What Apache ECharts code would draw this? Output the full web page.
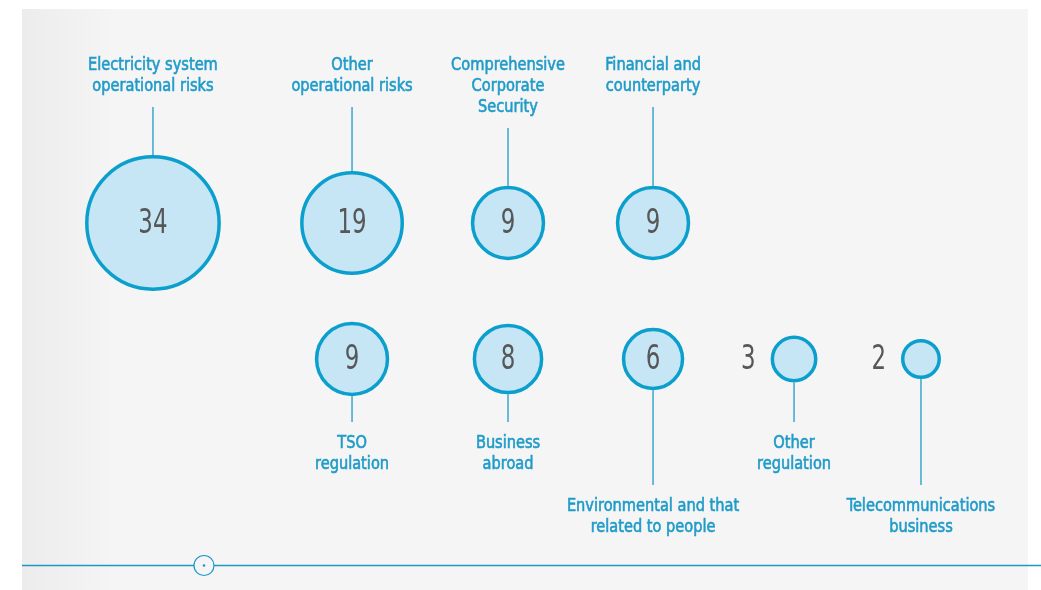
<!DOCTYPE html>
<html lang="en" style="height: 100%">
<head>
  <meta charset="utf-8">
</head>
<body style="height: 100%; margin: 0">
  <div id="container" style="height: 100%"></div>

  <script type="text/javascript" src="https://fastly.jsdelivr.net/npm/echarts@6/dist/echarts.min.js"></script>
  <script type="text/javascript">
    // risk categories and how many risks fall in each
    var riskNames = [
      'Electricity system\noperational risks',
      'Other\noperational risks',
      'Comprehensive\nCorporate\nSecurity',
      'Financial and\ncounterparty',
      'TSO\nregulation',
      'Business\nabroad',
      'Environmental and that\nrelated to people',
      'Other\nregulation',
      'Telecommunications\nbusiness'
    ];
    var riskCounts = [34, 19, 9, 9, 9, 8, 6, 3, 2];

    // layout: column (x axis units), row, and label level for the lower row
    var colPos = [13.03, 32.84, 48.36, 62.79, 32.84, 48.36, 62.79, 76.82, 89.45];
    var rowIdx = [0, 0, 0, 0, 1, 1, 1, 1, 1];
    var labelLevel = [0, 0, 0, 0, 0, 0, 1, 0, 1];

    var blue = '#0b9fcd';
    var textBlue = '#1f9bc9';
    var condFont = '"DejaVu Sans Condensed", "DejaVu Sans", sans-serif';

    var dom = document.getElementById('container');
    var myChart = echarts.init(dom, null, { renderer: 'canvas' });

    var seriesData = riskCounts.map(function (v, i) {
      return [colPos[i], rowIdx[i], v, i];
    });

    function bubbleRadius(v) {
      return (21.7 * Math.sqrt(v) + 9.3) / 2;
    }

    function renderItem(params, api) {
      var v = api.value(2);
      var i = api.value(3);
      var pt = api.coord([api.value(0), api.value(1)]);
      var cx = pt[0], cy = pt[1];
      var r = bubbleRadius(v);
      var name = riskNames[i];
      var lines = name.split('\n').length;
      var top = rowIdx[i] === 0;
      var children = [];

      var labelY, lineFrom, lineTo;
      if (top) {
        labelY = cy - 168.5;
        lineFrom = cy - 158 + 21 * lines;
        lineTo = cy - r;
      } else {
        labelY = cy + 73.5 + 63 * labelLevel[i];
        lineFrom = cy + r;
        lineTo = cy + 63 + 63 * labelLevel[i];
      }

      children.push({
        type: 'line',
        shape: { x1: cx, y1: lineFrom, x2: cx, y2: lineTo },
        style: { stroke: '#3aa7d0', lineWidth: 1.5 }
      });
      children.push({
        type: 'circle',
        shape: { cx: cx, cy: cy, r: r - 1.75 },
        style: { fill: '#c6e6f5', stroke: blue, lineWidth: 3.5 }
      });
      children.push({
        type: 'text',
        x: cx,
        y: labelY,
        scaleX: 0.9,
        style: {
          text: name,
          x: 0,
          y: 0,
          align: 'center',
          verticalAlign: 'top',
          lineHeight: 21,
          fill: textBlue,
          stroke: textBlue,
          lineWidth: 0.6,
          font: '18px ' + condFont
        }
      });

      var inside = v >= 6;
      children.push({
        type: 'text',
        x: inside ? cx : cx - r - 15,
        y: cy + 1,
        scaleX: 0.75,
        style: {
          text: String(v),
          x: 0,
          y: 0,
          align: inside ? 'center' : 'right',
          verticalAlign: 'middle',
          fill: '#575757',
          font: '34px ' + condFont
        }
      });

      return { type: 'group', children: children };
    }

    var option = {
      backgroundColor: '#ffffff',
      animation: false,
      grid: { left: 22, right: 14, top: 155, bottom: 163 },
      xAxis: { type: 'value', min: 0, max: 100, show: false },
      yAxis: { type: 'category', data: ['upper', 'lower'], inverse: true, show: false },
      graphic: [
        {
          type: 'rect',
          z: -10,
          shape: { x: 22, y: 9, width: 1006, height: 581 },
          style: {
            fill: new echarts.graphic.LinearGradient(0, 0, 1, 0, [
              { offset: 0, color: '#ececec' },
              { offset: 0.09, color: '#f5f5f5' },
              { offset: 1, color: '#f5f5f5' }
            ])
          }
        },
        {
          type: 'line',
          z: -5,
          shape: { x1: 22, y1: 565.5, x2: 1041, y2: 565.5 },
          style: { stroke: '#1a98c6', lineWidth: 1.3 }
        },
        {
          type: 'circle',
          z: -4,
          shape: { cx: 204, cy: 565.5, r: 10 },
          style: { fill: '#f5f5f5', stroke: '#1a98c6', lineWidth: 1.2 }
        },
        {
          type: 'circle',
          z: -3,
          shape: { cx: 204, cy: 565.5, r: 1.3 },
          style: { fill: '#1a98c6' }
        }
      ],
      series: [{
        type: 'custom',
        renderItem: renderItem,
        data: seriesData
      }]
    };

    myChart.setOption(option);
    window.addEventListener('resize', myChart.resize);
  </script>
</body>
</html>
